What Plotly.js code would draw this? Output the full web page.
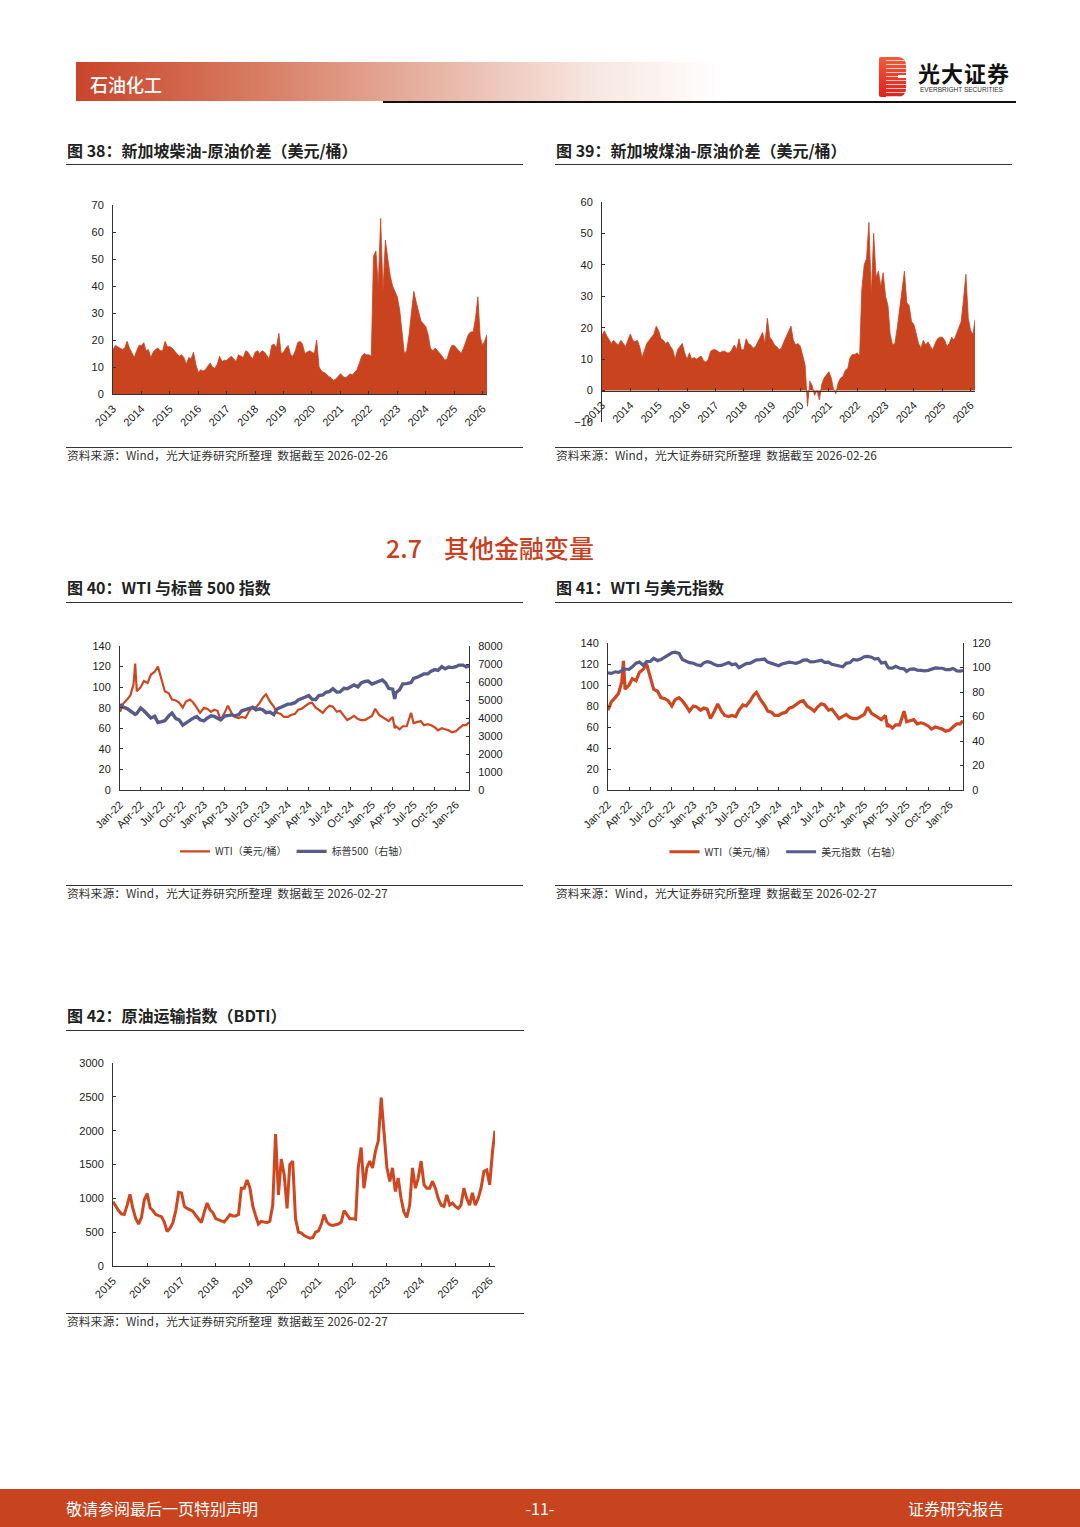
<!DOCTYPE html>
<html><head><meta charset="utf-8">
<script src="https://cdn.plot.ly/plotly-3.0.1.min.js"></script>
<style>
body{margin:0;width:1080px;height:1527px;position:relative;background:#fff;font-family:"Noto Sans CJK SC","Noto Sans",sans-serif;overflow:hidden}
.ttl{position:absolute;font-size:16px;font-weight:700;color:#222;line-height:20px;white-space:nowrap}
.hl{position:absolute;height:0;border-top:1px solid #333}
.src{position:absolute;font-size:11.8px;color:#333;line-height:14px;white-space:nowrap}
.chart{position:absolute}
</style></head><body>

<!-- header -->
<div style="position:absolute;left:76px;top:62px;width:645px;height:39px;background:linear-gradient(to right,#C8452A 0%,#D77C62 28%,#E7B3A3 55%,#F7E6E0 80%,#ffffff 100%)"></div>
<div style="position:absolute;left:90px;top:72px;font-size:18px;line-height:24px;color:#fff;font-weight:500">石油化工</div>
<div style="position:absolute;left:383px;top:101px;width:633px;height:2px;background:#111"></div>
<div style="position:absolute;left:879px;top:57px;width:27px;height:40px;background:linear-gradient(to bottom,#F25C3A,#E0201E);border-radius:2px 8px 8px 2px;overflow:hidden">
  <div style="position:absolute;left:7px;top:0;width:20px;height:40px;background:repeating-linear-gradient(to bottom,transparent 0px,transparent 3px,rgba(255,255,255,0.75) 3px,rgba(255,255,255,0.75) 4px)"></div>
  <div style="position:absolute;left:19px;top:18px;width:8px;height:3px;background:#fff"></div>
</div>
<div style="position:absolute;left:918px;top:58px;font-size:22px;line-height:28px;font-weight:700;color:#111;letter-spacing:1px">光大证券</div>
<div style="position:absolute;left:920px;top:86px;font-size:6.5px;line-height:8px;color:#333;font-family:'Liberation Sans',Arial,sans-serif">EVERBRIGHT SECURITIES</div>

<!-- chart 38/39 titles -->
<div class="ttl" style="left:67px;top:140px">图 38：新加坡柴油-原油价差（美元/桶）</div>
<div class="hl" style="left:66px;top:164px;width:457px"></div>
<div class="ttl" style="left:556px;top:140px">图 39：新加坡煤油-原油价差（美元/桶）</div>
<div class="hl" style="left:555px;top:164px;width:457px"></div>
<div id="c38" class="chart" style="left:60px;top:180px;width:450px;height:270px"></div>
<div id="c39" class="chart" style="left:550px;top:176px;width:450px;height:274px"></div>
<div class="hl" style="left:66px;top:447px;width:457px"></div>
<div class="hl" style="left:555px;top:447px;width:457px"></div>
<div class="src" style="left:67px;top:448px">资料来源：Wind，光大证券研究所整理&nbsp;&nbsp;数据截至 2026-02-26</div>
<div class="src" style="left:556px;top:448px">资料来源：Wind，光大证券研究所整理&nbsp;&nbsp;数据截至 2026-02-26</div>

<!-- section -->
<div style="position:absolute;left:386px;top:531px;font-size:25px;line-height:32px;color:#C8401E;font-weight:500;white-space:nowrap">2.7</div>
<div style="position:absolute;left:444px;top:531px;font-size:25px;line-height:32px;color:#C8401E;font-weight:500;white-space:nowrap">其他金融变量</div>

<!-- chart 40/41 -->
<div class="ttl" style="left:67px;top:577px">图 40：WTI 与标普 500 指数</div>
<div class="hl" style="left:66px;top:602px;width:457px"></div>
<div class="ttl" style="left:556px;top:577px">图 41：WTI 与美元指数</div>
<div class="hl" style="left:555px;top:602px;width:457px"></div>
<div id="c40" class="chart" style="left:60px;top:620px;width:470px;height:260px"></div>
<div id="c41" class="chart" style="left:550px;top:620px;width:470px;height:260px"></div>
<div class="hl" style="left:66px;top:885px;width:457px"></div>
<div class="hl" style="left:555px;top:885px;width:457px"></div>
<div class="src" style="left:67px;top:886px">资料来源：Wind，光大证券研究所整理&nbsp;&nbsp;数据截至 2026-02-27</div>
<div class="src" style="left:556px;top:886px">资料来源：Wind，光大证券研究所整理&nbsp;&nbsp;数据截至 2026-02-27</div>

<!-- chart 42 -->
<div class="ttl" style="left:67px;top:1005px">图 42：原油运输指数（BDTI）</div>
<div class="hl" style="left:66px;top:1030px;width:458px"></div>
<div id="c42" class="chart" style="left:60px;top:1040px;width:470px;height:270px"></div>
<div class="hl" style="left:66px;top:1313px;width:458px"></div>
<div class="src" style="left:67px;top:1314px">资料来源：Wind，光大证券研究所整理&nbsp;&nbsp;数据截至 2026-02-27</div>

<!-- footer -->
<div style="position:absolute;left:0;top:1489px;width:1080px;height:38px;background:#C8441F"></div>
<div style="position:absolute;left:66px;top:1497px;font-size:16px;line-height:22px;color:#fff">敬请参阅最后一页特别声明</div>
<div style="position:absolute;left:0;width:1080px;text-align:center;top:1497px;font-size:16px;line-height:22px;color:#fff">-11-</div>
<div style="position:absolute;right:76px;top:1497px;font-size:16px;line-height:22px;color:#fff">证券研究报告</div>

<script>
// ---------------- DATA ----------------
// Fig 38: Singapore diesel - crude spread (USD/bbl), monthly from 2013-01, last point = end date
const dieselStart = 2013;
const dieselEndDate = '2026-02-26';
const dieselSpread = [
 16.5,18,17.5,17,16.5,17,19.5,17,15,13.5,16,18,
 18,19,16,16.5,13.5,15.5,16.5,17,16,16,19.5,17.5,
 17.5,17,16,15,14,14.5,13.5,11,13.5,13,15.5,11,
 8,9,8.5,9,10.5,11.5,10,9.5,11,14,12,12.5,
 12.5,13.5,14,13,12,14.5,14,13.5,16,15.5,14,13,
 15.5,16,15,16,15.5,14,13,18,18.5,17,22.5,15,
 15.5,17,18,14.5,14,16,19,19.5,18.5,15,15.5,16,
 15.5,15,20,10,8.5,8,7.5,6.5,6,5,5.5,6.5,
 7.5,6.5,6,6.5,7.5,7,8,9,11.5,14,15,14.5,
 14.5,14,51,53,40,65,38,57,50,44,40,38,
 36,31,22,15,16,22,30,38,34,30,27,26,
 25,22,17,16,17,16,15,14,12.5,13,16,18,
 18,17,16,15,17,20,22,23,23,28,36,21,
 18,20,
 22
];
// Fig 39: Singapore jet kerosene - crude spread (USD/bbl)
const jetStart = 2013;
const jetEndDate = '2026-02-26';
const jetSpread = [
 17.5,19,17.5,16,15,16,15,14.5,16,15,14,16,
 18,16,15.5,16,14,10.5,13,15,16,17,18,20.5,
 19,16.5,16,15,15.5,14,13,10,13,14,15,12,
 10,12,10,10.5,10,10.5,11,9.5,9,10,12.5,13,
 13,12.5,12,12.5,12.5,12,12,13,14.5,13,16.5,13,
 13,16.5,15,14.5,13.5,14,15.5,17,18.5,15,23,17,
 16,14.5,14,13,13.5,15.5,17,19,20.5,16,14.5,15,
 14,11,8,-5,3,1.5,-1.5,0,-3,2,4,5,
 6,4,0.5,-1,2.5,4,4.5,6.5,7,10.5,11.5,11.5,
 12,11,32,40,42,53.5,30,50,36,38,33,37.5,
 30,27,18,14.5,15,20,26,33,38,28,27,22,
 21,18,15,13.5,16,14.5,15.5,14,13,15,16.5,17,
 17,16,14,15,17,16,18,20,22,29,37,23,
 19,18,
 22.5
];
// Fig 40 / 41: WTI, S&P 500, US dollar index
const wtiDates = [
 '2022-01-01','2022-01-15','2022-02-01','2022-02-15','2022-03-01','2022-03-08','2022-03-15','2022-04-01','2022-04-15','2022-05-01','2022-05-15','2022-06-01','2022-06-15','2022-07-01','2022-07-15','2022-08-01','2022-08-15','2022-09-01','2022-09-15','2022-10-01','2022-10-15','2022-11-01','2022-11-15','2022-12-01','2022-12-15',
 '2023-01-01','2023-01-15','2023-02-01','2023-02-15','2023-03-01','2023-03-15','2023-04-01','2023-04-15','2023-05-01','2023-05-15','2023-06-01','2023-06-15','2023-07-01','2023-07-15','2023-08-01','2023-08-15','2023-09-01','2023-09-15','2023-09-28','2023-10-15','2023-11-01','2023-11-15','2023-12-01','2023-12-15',
 '2024-01-01','2024-01-15','2024-02-01','2024-02-15','2024-03-01','2024-03-15','2024-04-01','2024-04-15','2024-05-01','2024-05-15','2024-06-01','2024-06-15','2024-07-01','2024-07-15','2024-08-01','2024-08-15','2024-09-01','2024-09-15','2024-10-01','2024-10-15','2024-11-01','2024-11-15','2024-12-01','2024-12-15',
 '2025-01-01','2025-01-15','2025-02-01','2025-02-15','2025-03-01','2025-03-15','2025-04-01','2025-04-10','2025-04-15','2025-05-01','2025-05-15','2025-06-01','2025-06-20','2025-07-01','2025-07-15','2025-08-01','2025-08-15','2025-09-01','2025-09-15','2025-10-01','2025-10-15','2025-11-01','2025-11-15','2025-12-01','2025-12-15',
 '2026-01-01','2026-01-15','2026-02-01','2026-02-15','2026-02-27'
];
const wti = [
 76,84,88,92,103,123,96,100,106,104,112,115,120,106,96,94,88,87,85,80,86,88,85,80,75,
 80,79,76,78,77,68,75,82,75,71,70,71,70,76,81,80,85,90,93,86,81,75,74,71,
 71,73,74,78,79,81,84,85,80,78,75,79,82,81,76,77,72,68,70,72,69,68,68,70,
 72,79,73,71,69,67,71,60,62,59,62,62,75,65,66,67,63,64,63,61,58,60,59,58,56,
 57,60,63,63,66
];
const spx = [
 4770,4600,4520,4400,4300,4200,4250,4550,4400,4150,4000,4100,3750,3800,3850,4120,4280,3970,3900,3600,3700,3870,3990,4080,3900,
 3840,3990,4120,4090,3970,3900,4110,4140,4170,4120,4180,4400,4450,4510,4590,4450,4510,4450,4300,4330,4190,4500,4590,4720,
 4770,4780,4850,5000,5100,5150,5250,5050,5020,5250,5280,5430,5480,5630,5440,5450,5650,5630,5740,5840,5730,5950,6030,6050,
 5880,5950,6040,6110,5950,5640,5600,5060,5400,5570,5900,5910,5970,6200,6250,6340,6450,6460,6600,6690,6650,6850,6730,6830,6800,
 6850,6940,6940,6840,6900
];
const dxy = [
 95.7,95.2,96.5,96.0,97.4,99.0,98.8,98.5,100.5,103.5,104.5,101.8,104.8,105.0,107.5,105.6,106.5,108.7,109.8,112.0,112.5,111.5,106.5,104.8,104.0,
 103.5,102.2,101.5,103.8,104.8,104.2,102.4,101.6,101.7,102.6,104.1,102.3,102.9,99.9,101.9,103.2,103.6,105.3,106.3,106.4,106.9,104.4,103.3,102.3,
 101.4,102.8,103.5,104.3,103.9,103.4,104.5,106.1,106.2,104.6,104.7,105.5,105.9,104.2,104.4,102.6,101.7,100.8,100.6,103.4,104.0,106.6,106.1,106.9,
 108.8,109.1,108.4,106.8,107.4,103.7,104.2,100.9,99.6,99.5,100.9,99.4,98.9,96.8,98.6,98.9,97.9,97.7,97.3,97.7,98.4,99.7,99.5,99.4,98.3,
 98.3,99.2,97.2,97.0,97.6
];
// Fig 42: BDTI, monthly from 2015-01, last point = end date
const bdtiStart = 2015;
const bdtiEndDate = '2026-02-27';
const bdti = [
 950,880,820,770,760,900,1060,850,700,620,720,980,
 1070,860,820,760,740,730,650,510,560,640,820,1090,
 1080,880,850,830,810,750,700,640,800,930,830,790,
 700,680,660,650,700,760,740,740,760,1150,1150,1270,
 1150,880,750,620,660,650,640,660,900,1950,1050,1580,
 1350,850,1500,1550,700,500,490,450,430,410,420,500,
 520,620,760,650,610,600,610,620,650,820,760,700,
 700,690,1450,1750,1150,1450,1550,1450,1700,1850,2490,2000,
 1450,1250,1450,1100,1300,1000,800,720,900,1450,1150,1300,
 1550,1200,1150,1150,1250,1150,1000,900,880,1050,900,930,
 880,850,900,1150,1000,900,1080,900,1000,1150,1400,1420,
 1200,1700,
 2000
];
const legend40 = ['WTI（美元/桶）','标普500（右轴）'];
const legend41 = ['WTI（美元/桶）','美元指数（右轴）'];

// ---------------- HELPERS ----------------
function monthDates(y0, n){const o=[];for(let i=0;i<n;i++){const y=y0+Math.floor(i/12),m=i%12+1;o.push(y+'-'+String(m).padStart(2,'0')+'-01');}return o;}
function withEnd(y0, vals, end){return monthDates(y0, vals.length-1).concat([end]);}

const RED='#C9431F', LINE_RED='#D0461F', PURPLE='#585A8C', AX='#333';
const tickFont={family:'"Liberation Sans", Arial, sans-serif',size:11,color:'#222'};
const cfg={staticPlot:true,displayModeBar:false};
function xBase(extra){return Object.assign({type:'date',showline:true,linecolor:AX,linewidth:1,ticks:'inside',ticklen:3,tickcolor:AX,
  showgrid:false,zeroline:false,tickangle:-45,tickfont:tickFont,automargin:false,ticklabelstandoff:3},extra);}
function yBase(extra){return Object.assign({showline:true,linecolor:AX,linewidth:1,ticks:'inside',ticklen:3,tickcolor:AX,
  showgrid:false,zeroline:false,tickfont:tickFont,automargin:false,ticklabelstandoff:6},extra);}

// Fig 38
Plotly.newPlot('c38',[{x:withEnd(dieselStart,dieselSpread,dieselEndDate),y:dieselSpread,type:'scatter',mode:'lines',
  fill:'tozeroy',fillcolor:RED,line:{color:RED,width:0.8},hoverinfo:'skip'}],
 {width:450,height:270,margin:{l:53,r:23,t:25,b:56},paper_bgcolor:'#fff',plot_bgcolor:'#fff',showlegend:false,
  xaxis:xBase({range:['2013-01-01',dieselEndDate],dtick:'M12',tick0:'2013-01-01',tickformat:'%Y'}),
  yaxis:yBase({range:[0,70],dtick:10})},cfg);

// Fig 39
Plotly.newPlot('c39',[{x:withEnd(jetStart,jetSpread,jetEndDate),y:jetSpread,type:'scatter',mode:'lines',
  fill:'tozeroy',fillcolor:RED,line:{color:RED,width:0.8},hoverinfo:'skip'}],
 {width:450,height:274,margin:{l:52,r:25,t:26,b:28},paper_bgcolor:'#fff',plot_bgcolor:'#fff',showlegend:false,
  xaxis:xBase({range:['2013-01-01',jetEndDate],dtick:'M12',tick0:'2013-01-01',tickformat:'%Y',anchor:'free',position:1/7}),
  yaxis:yBase({range:[-10,60],dtick:10})},cfg);

// Fig 40
const legFont={family:'"Noto Sans CJK SC", sans-serif',size:10,color:'#333'};
Plotly.newPlot('c40',[
  {x:wtiDates,y:wti,name:legend40[0],type:'scatter',mode:'lines',line:{color:LINE_RED,width:2.2},hoverinfo:'skip'},
  {x:wtiDates,y:spx,name:legend40[1],yaxis:'y2',type:'scatter',mode:'lines',line:{color:PURPLE,width:3.4},hoverinfo:'skip'}],
 {width:470,height:260,margin:{l:60,r:61,t:26,b:90},paper_bgcolor:'#fff',plot_bgcolor:'#fff',showlegend:true,
  legend:{orientation:'h',x:0.5,xanchor:'center',y:-0.426,yanchor:'middle',font:legFont,bgcolor:'rgba(0,0,0,0)'},
  xaxis:xBase({range:['2022-01-01','2026-02-27'],dtick:'M3',tick0:'2022-01-01',tickformat:'%b-%y'}),
  yaxis:yBase({range:[0,140],dtick:20}),
  yaxis2:yBase({range:[0,8000],dtick:1000,overlaying:'y',side:'right'})},cfg);

// Fig 41
Plotly.newPlot('c41',[
  {x:wtiDates,y:wti,name:legend41[0],type:'scatter',mode:'lines',line:{color:LINE_RED,width:3.2},hoverinfo:'skip'},
  {x:wtiDates,y:dxy,name:legend41[1],yaxis:'y2',type:'scatter',mode:'lines',line:{color:PURPLE,width:3.2},hoverinfo:'skip'}],
 {width:470,height:260,margin:{l:58,r:57,t:23,b:90},paper_bgcolor:'#fff',plot_bgcolor:'#fff',showlegend:true,
  legend:{orientation:'h',x:0.5,xanchor:'center',y:-0.42,yanchor:'middle',font:legFont,bgcolor:'rgba(0,0,0,0)'},
  xaxis:xBase({range:['2022-01-01','2026-02-27'],dtick:'M3',tick0:'2022-01-01',tickformat:'%b-%y'}),
  yaxis:yBase({range:[0,140],dtick:20}),
  yaxis2:yBase({range:[0,120],dtick:20,overlaying:'y',side:'right'})},cfg);

// Fig 42
Plotly.newPlot('c42',[{x:withEnd(bdtiStart,bdti,bdtiEndDate),y:bdti,type:'scatter',mode:'lines',
  line:{color:LINE_RED,width:3},hoverinfo:'skip'}],
 {width:470,height:270,margin:{l:53,r:35,t:23,b:44},paper_bgcolor:'#fff',plot_bgcolor:'#fff',showlegend:false,
  xaxis:xBase({range:['2015-01-01',bdtiEndDate],dtick:'M12',tick0:'2015-01-01',tickformat:'%Y'}),
  yaxis:yBase({range:[0,3000],dtick:500})},cfg);
</script>
</body></html>
